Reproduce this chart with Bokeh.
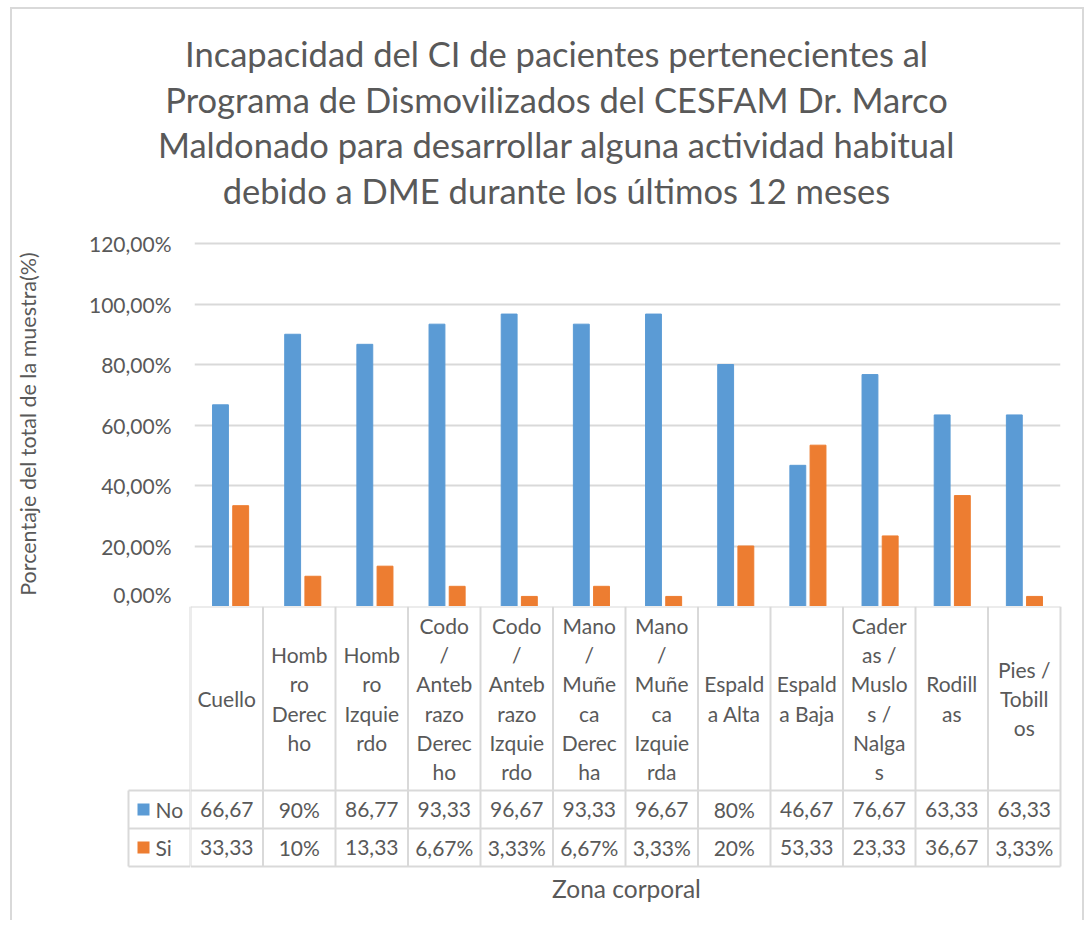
from bokeh.plotting import figure
from bokeh.layouts import column, row
from bokeh.models import Range1d, FixedTicker
from bokeh.core.properties import value
from bokeh.embed import file_html
from bokeh.resources import INLINE

# ---------------- data ----------------
title_lines = [
    "Incapacidad del CI de pacientes pertenecientes al",
    "Programa de Dismovilizados del CESFAM Dr. Marco",
    "Maldonado para desarrollar alguna actividad habitual",
    "debido a DME durante los últimos 12 meses",
]
categories = [
    "Cuello",
    "Homb\nro\nDerec\nho",
    "Homb\nro\nIzquie\nrdo",
    "Codo\n/\nAnteb\nrazo\nDerec\nho",
    "Codo\n/\nAnteb\nrazo\nIzquie\nrdo",
    "Mano\n/\nMuñe\nca\nDerec\nha",
    "Mano\n/\nMuñe\nca\nIzquie\nrda",
    "Espald\na Alta",
    "Espald\na Baja",
    "Cader\nas /\nMuslo\ns /\nNalga\ns",
    "Rodill\nas",
    "Pies /\nTobill\nos",
]
series_names = ["No", "Si"]
no_values = [66.67, 90.0, 86.67, 93.33, 96.67, 93.33, 96.67, 80.0, 46.67, 76.67, 63.33, 63.33]
si_values = [33.33, 10.0, 13.33, 6.67, 3.33, 6.67, 3.33, 20.0, 53.33, 23.33, 36.67, 3.33]
no_labels = ["66,67", "90%", "86,77", "93,33", "96,67", "93,33", "96,67", "80%", "46,67", "76,67", "63,33", "63,33"]
si_labels = ["33,33", "10%", "13,33", "6,67%", "3,33%", "6,67%", "3,33%", "20%", "53,33", "23,33", "36,67", "3,33%"]
y_ticks = [0, 20, 40, 60, 80, 100, 120]
y_tick_labels = ["0,00%", "20,00%", "40,00%", "60,00%", "80,00%", "100,00%", "120,00%"]
y_axis_title = "Porcentaje del total de la muestra(%)"
x_axis_title = "Zona corporal"

# ---------------- style ----------------
FONT = "Lato"
GRAY = "#595959"
LINE = "#d9d9d9"
BLUE = "#5B9BD5"
ORANGE = "#ED7D31"
TXT = "21px"
W = 1070
PX_PER_UNIT = 3.025      # vertical pixels per percentage point
COL_PX = 72.5            # pixels per category column
LEFT_W = 178             # width left of the category columns
n = len(categories)
centers = [i + 0.5 for i in range(n)]


def base(**kw):
    return figure(toolbar_location=None, output_backend="svg", outline_line_color=None,
                  background_fill_color="white", border_fill_color="white", **kw)


# ---------------- title figure ----------------
T_H = 219
pt = base(width=W, height=T_H, x_range=Range1d(0, W), y_range=Range1d(T_H, 0),
          x_axis_location=None, y_axis_location=None,
          min_border_left=0, min_border_right=0, min_border_top=0, min_border_bottom=0)
pt.grid.visible = False
title_center = 544
title_baselines = [43.5, 89.5, 135, 181]
pt.text(x=[title_center] * len(title_lines), y=title_baselines, text=title_lines,
        text_align="center", text_baseline="alphabetic",
        text_font=value(FONT), text_font_size="34.5px", text_color=GRAY)

# ---------------- bar chart figure ----------------
A_H = 378
A_TOP = 13
frame_h = A_H - A_TOP
pa = base(width=W, height=A_H, x_range=Range1d(0, n), y_range=Range1d(0, frame_h / PX_PER_UNIT),
          x_axis_location=None, min_border_left=LEFT_W, min_border_right=W - LEFT_W - int(COL_PX * n),
          min_border_top=A_TOP, min_border_bottom=0)
off = 0.14
bw = 0.22
pa.vbar(x=[c - off for c in centers], top=no_values, width=bw, color=BLUE)
pa.vbar(x=[c + off for c in centers], top=si_values, width=bw, color=ORANGE)
pa.xgrid.visible = False
pa.ygrid.ticker = FixedTicker(ticks=y_ticks)
pa.ygrid.grid_line_color = LINE
pa.ygrid.grid_line_width = 2
ya = pa.yaxis[0]
ya.ticker = FixedTicker(ticks=y_ticks)
ya.major_label_overrides = dict(zip(y_ticks, y_tick_labels))
ya.axis_line_color = None
ya.major_tick_line_color = None
ya.minor_tick_line_color = None
ya.major_tick_in = 0
ya.major_tick_out = 0
ya.major_label_standoff = 23
ya.major_label_text_font = FONT
ya.major_label_text_font_size = TXT
ya.major_label_text_color = GRAY
ya.axis_label = y_axis_title
ya.axis_label_text_font = FONT
ya.axis_label_text_font_size = "21.5px"
ya.axis_label_text_font_style = "normal"
ya.axis_label_text_color = GRAY
ya.axis_label_standoff = 45

# ---------------- data table ----------------
B_H = 314
ROW_H = 38
HEAD_TOP = 260
pad = 2
# legend column
LEG_W = 62
pbl = base(width=LEFT_W, height=B_H, x_range=Range1d(-pad, LEG_W), y_range=Range1d(-pad, HEAD_TOP),
           x_axis_location=None, y_axis_location=None,
           min_border_left=LEFT_W - LEG_W - pad, min_border_right=0, min_border_top=0,
           min_border_bottom=B_H - HEAD_TOP - pad)
pbl.grid.visible = False
pbl.segment(x0=[0, 0, 0, 0, LEG_W], y0=[0, ROW_H, 2 * ROW_H, 0, 0],
            x1=[LEG_W, LEG_W, LEG_W, 0, LEG_W], y1=[0, ROW_H, 2 * ROW_H, 2 * ROW_H, HEAD_TOP],
            line_color=LINE, line_width=2)
row_y = [ROW_H * 1.5, ROW_H * 0.5]
pbl.scatter(x=[15, 15], y=row_y, marker="square", size=12, color=[BLUE, ORANGE], line_color=None)
pbl.text(x=[27, 27], y=row_y, text=series_names, text_align="left", text_baseline="middle",
         text_font=value(FONT), text_font_size=TXT, text_color=GRAY)

# table body
BR_W = W - LEFT_W
pbr = base(width=BR_W, height=B_H, x_range=Range1d(0, n + pad / COL_PX), y_range=Range1d(-pad, HEAD_TOP),
           y_axis_location=None, min_border_left=0, min_border_right=BR_W - int(round(COL_PX * n + pad)),
           min_border_top=0, min_border_bottom=B_H - HEAD_TOP - pad)
pbr.grid.visible = False
hy = [0, ROW_H, 2 * ROW_H, HEAD_TOP]
pbr.segment(x0=[0] * 4, y0=hy, x1=[n] * 4, y1=hy, line_color=LINE, line_width=2)
vx = list(range(n + 1))
pbr.segment(x0=vx, y0=[0] * (n + 1), x1=vx, y1=[HEAD_TOP] * (n + 1), line_color=LINE, line_width=2)
head_y = (HEAD_TOP + 2 * ROW_H) / 2
pbr.text(x=centers, y=[head_y] * n, text=categories, text_align="center", text_baseline="middle",
         text_font=value(FONT), text_font_size=TXT, text_color=GRAY, text_line_height=1.17)
pbr.text(x=centers, y=[row_y[0]] * n, text=no_labels, text_align="center", text_baseline="middle",
         text_font=value(FONT), text_font_size=TXT, text_color=GRAY)
pbr.text(x=centers, y=[row_y[1]] * n, text=si_labels, text_align="center", text_baseline="middle",
         text_font=value(FONT), text_font_size=TXT, text_color=GRAY)
xa = pbr.xaxis[0]
xa.ticker = FixedTicker(ticks=[])
xa.axis_line_color = None
xa.major_tick_line_color = None
xa.minor_tick_line_color = None
xa.major_label_text_font_size = "0px"
xa.axis_label = x_axis_title
xa.axis_label_text_font = FONT
xa.axis_label_text_font_size = "24.5px"
xa.axis_label_text_font_style = "normal"
xa.axis_label_text_color = GRAY
xa.axis_label_standoff = 5

layout = column(row(pt), pa, row(pbl, pbr),
                styles={"border-top": "2px solid #d9d9d9", "border-left": "2px solid #d9d9d9",
                        "border-right": "2px solid #d9d9d9",
                        "margin-left": "10px", "margin-top": "7px"})

open("out.html", "w").write(file_html(layout, INLINE))
